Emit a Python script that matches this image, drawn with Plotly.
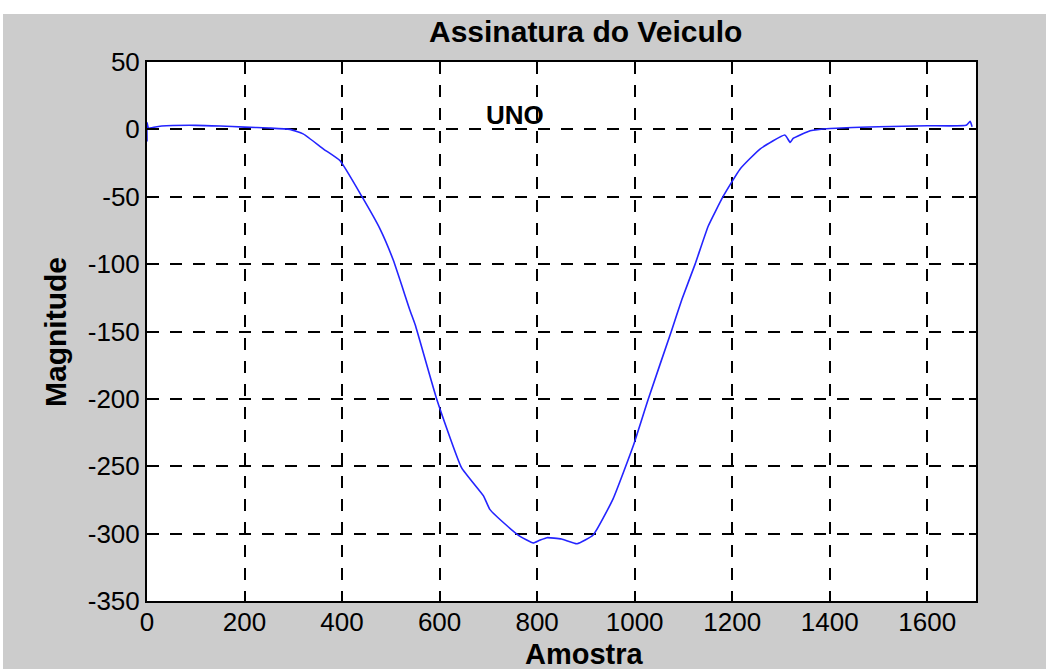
import plotly.graph_objects as go

# Data
amostra = [0, 0, 3, 30, 100, 150, 200, 250, 293, 321, 362, 396, 440, 478, 505, 539, 550, 594,
           645, 690, 703, 740, 765, 792, 805, 820, 850, 882, 915, 956, 997, 1028, 1076, 1097,
           1124, 1151, 1182, 1216, 1257, 1308, 1319, 1325, 1360, 1401, 1500, 1600, 1680, 1688, 1692]
magnitude = [-9, 5, 1, 2.5, 3, 2.5, 1.7, 1, 0, -3.5, -14.6, -23.3, -49.4, -74, -97, -134, -145, -200,
             -251, -272, -282, -294.7, -302, -307, -305, -303, -304, -307.5, -301, -274, -235, -200, -149, -126,
             -100, -71.7, -49.4, -29.5, -14.6, -4.2, -9.7, -6.7, -1, 0.7, 2, 2.7, 3, 6, 2]

x_ticks = [0, 200, 400, 600, 800, 1000, 1200, 1400, 1600]
y_ticks = [-350, -300, -250, -200, -150, -100, -50, 0, 50]

W, H = 1046, 669
L, R, T, B = 147, 976, 62, 601
pw, ph = R - L, B - T

def px(xp):
    return (xp - L) / pw

def py(yp):
    return (B - yp) / ph

fig = go.Figure()
fig.add_trace(go.Scatter(x=amostra, y=magnitude, mode="lines",
                         line=dict(color="#2424ff", width=1.6, shape="spline", smoothing=0.4),
                         hoverinfo="skip"))

font = "Liberation Sans, Arial, sans-serif"
axis_common = dict(
    showline=True, linecolor="black", linewidth=2, mirror="ticks",
    ticks="inside", ticklen=7, tickwidth=1.5, tickcolor="black",
    showgrid=True, gridcolor="black", gridwidth=1.6, griddash="12px,11px",
    zeroline=False,
    tickfont=dict(family=font, size=26, color="black"),
)

fig.update_layout(
    width=W, height=H,
    margin=dict(l=L, r=W - R, t=T, b=H - B, pad=0),
    paper_bgcolor="#cccccc", plot_bgcolor="white",
    showlegend=False,
    xaxis=dict(range=[0, 1700], tickvals=x_ticks, ticktext=[str(v) for v in x_ticks],
               ticklabelstandoff=-3, **axis_common),
    yaxis=dict(range=[-350, 50], tickvals=y_ticks, ticktext=[str(v) for v in y_ticks], **axis_common),
    shapes=[
        dict(type="rect", xref="paper", yref="paper", x0=px(0), x1=px(W), y0=py(14), y1=py(0),
             fillcolor="white", line=dict(width=0), layer="above"),
        dict(type="rect", xref="paper", yref="paper", x0=px(0), x1=px(3), y0=py(H), y1=py(0),
             fillcolor="white", line=dict(width=0), layer="above"),
    ],
    annotations=[
        dict(text="<b>Assinatura do Veiculo</b>", xref="paper", yref="paper", x=px(585), y=py(31),
             showarrow=False, font=dict(family=font, size=30, color="black"), xanchor="center", yanchor="middle"),
        dict(text="<b>Amostra</b>", xref="paper", yref="paper", x=px(584), y=py(654),
             showarrow=False, font=dict(family=font, size=29, color="black"), xanchor="center", yanchor="middle"),
        dict(text="<b>Magnitude</b>", xref="paper", yref="paper", x=px(55), y=py(332), textangle=-90,
             showarrow=False, font=dict(family=font, size=30, color="black"), xanchor="center", yanchor="middle"),
        dict(text="<b>UNO</b>", x=755, y=11, xref="x", yref="y",
             showarrow=False, font=dict(family=font, size=26, color="black"), xanchor="center", yanchor="middle"),
    ],
)

fig.write_html("out.html")
